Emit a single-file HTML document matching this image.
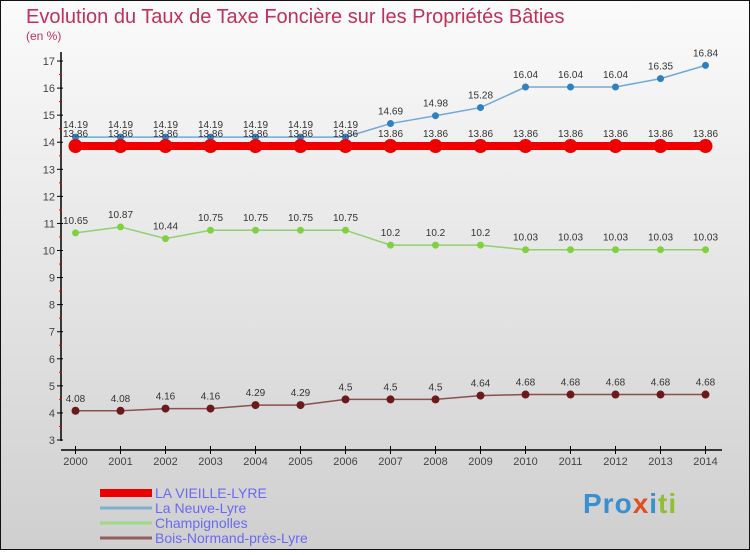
<!DOCTYPE html>
<html><head><meta charset="utf-8"><style>
body{margin:0;}
#wrap{width:750px;height:550px;position:relative;font-family:"Liberation Sans",sans-serif;}
svg text{font-family:"Liberation Sans",sans-serif;}
</style></head><body>
<div id="wrap">
<svg id="chart" width="750" height="550">
<defs><linearGradient id="bg" x1="0" y1="0" x2="0" y2="1"><stop offset="0" stop-color="#fbfbfb"/><stop offset="1" stop-color="#cfcfcf"/></linearGradient></defs>
<rect x="0.5" y="0.5" width="749" height="549" fill="url(#bg)" stroke="#111"/>
<text x="26" y="23" font-size="20" fill="#c0305a">Evolution du Taux de Taxe Foncière sur les Propriétés Bâties</text>
<text x="26" y="40" font-size="12" fill="#c0305a">(en %)</text>
<g id="axes"></g><g id="series"></g><g id="legend"></g>
</svg>
<div style="position:absolute;left:583px;top:488px;font-size:28px;font-weight:bold;color:#f0a020;letter-spacing:1px"><span style="color:#3a8fd0">Pro</span><span style="color:#e05020">x</span><span style="color:#3a8fd0">i</span><span style="color:#90c030">ti</span></div>
</div>
<script>
const years=[2000,2001,2002,2003,2004,2005,2006,2007,2008,2009,2010,2011,2012,2013,2014];
const yTicks=[3,4,5,6,7,8,9,10,11,12,13,14,15,16,17];
const names=["LA VIEILLE-LYRE","La Neuve-Lyre","Champignolles","Bois-Normand-près-Lyre"];
const vieille=[13.86,13.86,13.86,13.86,13.86,13.86,13.86,13.86,13.86,13.86,13.86,13.86,13.86,13.86,13.86];
const neuve=[14.19,14.19,14.19,14.19,14.19,14.19,14.19,14.69,14.98,15.28,16.04,16.04,16.04,16.35,16.84];
const champ=[10.65,10.87,10.44,10.75,10.75,10.75,10.75,10.2,10.2,10.2,10.03,10.03,10.03,10.03,10.03];
const bois=[4.08,4.08,4.16,4.16,4.29,4.29,4.5,4.5,4.5,4.64,4.68,4.68,4.68,4.68,4.68];
const NS="http://www.w3.org/2000/svg";
const xS=i=>75.5+i*45;
const yS=v=>440-(v-3)*27.07;
function mk(p,t,a){const e=document.createElementNS(NS,t);for(const k in a)e.setAttribute(k,a[k]);p.appendChild(e);return e;}
const ax=document.getElementById('axes');
const yl=mk(ax,'line',{x1:61,y1:52,x2:61,y2:441,stroke:'#000','stroke-width':1.5});


const xl=mk(ax,'line',{x1:61,y1:450,x2:722,y2:450,stroke:'#000','stroke-width':1.5});


yTicks.forEach(v=>{
 mk(ax,'line',{x1:57,y1:yS(v),x2:63,y2:yS(v),stroke:'#000'});
 if(v<17) mk(ax,'line',{x1:59,y1:yS(v+0.5),x2:62,y2:yS(v+0.5),stroke:'#e00'});
 const t=mk(ax,'text',{x:55,y:yS(v)+4,'font-size':11,fill:'#444','text-anchor':'end'});
 t.textContent=v;
 
 
});
years.forEach((y,i)=>{
 mk(ax,'line',{x1:xS(i),y1:446,x2:xS(i),y2:454,stroke:'#000'});
 const t=mk(ax,'text',{x:xS(i),y:465,'font-size':11,fill:'#444','text-anchor':'middle'});
 t.textContent=y;
 
 
});
const sg=document.getElementById('series');
function series(data,color,lw,r,key,dy,dot){
 const g=mk(sg,'g',{});
 
 
 mk(g,'polyline',{points:data.map((v,i)=>xS(i)+','+yS(v)).join(' '),fill:'none',stroke:color,'stroke-width':lw});
 data.forEach((v,i)=>{
  const c=mk(g,'circle',{cx:xS(i),cy:yS(v),r:r,fill:dot});
  
  
  const t=mk(g,'text',{x:xS(i),y:yS(v)+dy,'font-size':10,fill:'#333','text-anchor':'middle'});
  t.textContent=String(v);
  
  
 });
}
series(bois,'#8a5050',1.5,4,'bois',-9,'#6a1a1a');
series(champ,'#90d070',1.5,3.5,'champignolles',-9,'#80d040');
series(neuve,'#70a8d8',1.5,3.5,'neuve-lyre',-9,'#3080c0');
series(vieille,'#ee0000',8,7,'vieille-lyre',-9,'#ee0000');
const lg=document.getElementById('legend');
const cols=['#ee0000','#80b0d0','#a0d888','#906060'];const ws=[8,3,3,3];
names.forEach((n,i)=>{
 const y=493+i*15;
 const g=mk(lg,'g',{});
 
 
 mk(g,'line',{x1:100,y1:y,x2:152,y2:y,stroke:cols[i],'stroke-width':ws[i]});
 const t=mk(g,'text',{x:155,y:y+5,'font-size':14,fill:'#6a6af0'});
 t.textContent=n;
});
</script>
</body></html>
